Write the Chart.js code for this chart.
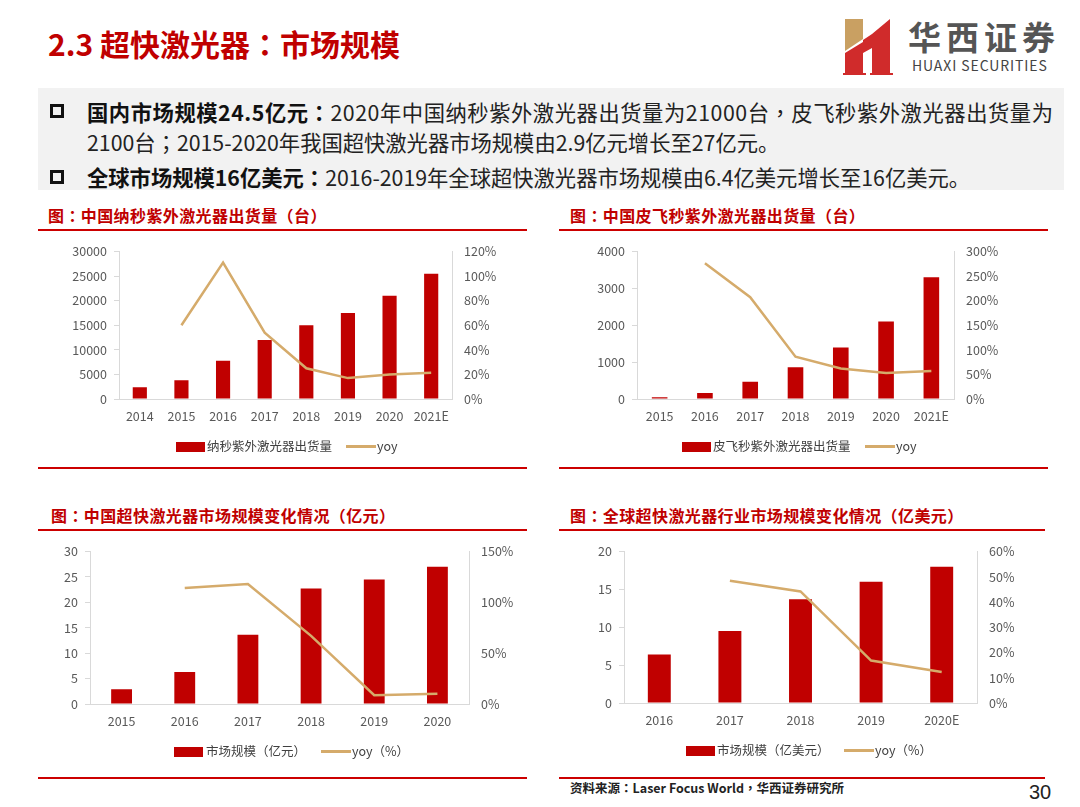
<!DOCTYPE html>
<html>
<head>
<meta charset="utf-8">
<script src="https://cdn.jsdelivr.net/npm/chart.js@4.4.1/dist/chart.umd.min.js"></script>
<style>
  html, body { margin: 0; padding: 0; }
  body { width: 1080px; height: 807px; background: #fff; position: relative; overflow: hidden;
         font-family: "Noto Sans CJK SC", "Noto Sans", sans-serif; }
  .abs { position: absolute; white-space: nowrap; }
  .p { font-family: "Noto Sans CJK TC", "Noto Sans CJK SC", sans-serif; }
  .title { left: 48px; top: 22px; font-size: 30px; font-weight: bold; color: #C00000; line-height: 42px; }
  .greybox { left: 38px; top: 88px; width: 1026px; height: 102px; background: #F2F2F2; }
  .bullet { width: 8px; height: 8px; border: 3px solid #111; }
  .btext { font-size: 21.3px; color: #222; line-height: 30px; }
  .btext b { color: #111; }
  .ctitle { font-size: 16px; letter-spacing: 0.4px; font-weight: bold; color: #C00000; line-height: 22px; }
  .rline { height: 2px; background: #CC0000; }
  .chartbox { position: absolute; }
  .legtext { font-size: 12.5px; color: #404040; line-height: 16px; }
  .sw { height: 10px; background: #C00000; }
  .lw { height: 3px; background: #D5AB6B; }
</style>
</head>
<body>
<div class="abs title">2.3 超快激光器<span class="p">：</span>市场规模</div>

<svg class="abs" style="left:840px;top:15px" width="56" height="62" viewBox="0 0 56 62">
  <polygon points="5,4 23,4 23,24 5,36" fill="#C9A062"/>
  <polygon points="5,38 23,27 23,58 26,58 26,60 3,60 3,58 5,58" fill="#D02B2B"/>
  <polygon points="23,25 32,19 50,4 50,58 53,58 53,60 30,60 30,58 32,58 32,33 23,38" fill="#D02B2B"/>
</svg>
<div class="abs" style="left:908px;top:14px;font-size:33px;letter-spacing:5px;color:#555;font-weight:bold;line-height:44px;">华西证券</div>
<div class="abs" style="left:912px;top:57px;font-size:14px;color:#444;line-height:16px;letter-spacing:0.9px;">HUAXI SECURITIES</div>

<div class="abs greybox"></div>
<div class="abs bullet" style="left:50px;top:104px;"></div>
<div class="abs btext" style="left:87px;top:97px;letter-spacing:0.55px;"><b>国内市场规模24.5亿元<span class="p">：</span></b>2020年中国纳秒紫外激光器出货量为21000台<span class="p">，</span>皮飞秒紫外激光器出货量为</div>
<div class="abs btext" style="left:87px;top:127px;">2100台<span class="p">；</span>2015-2020年我国超快激光器市场规模由2.9亿元增长至27亿元。</div>
<div class="abs bullet" style="left:50px;top:170px;"></div>
<div class="abs btext" style="left:87px;top:162px;"><b>全球市场规模16亿美元<span class="p">：</span></b>2016-2019年全球超快激光器市场规模由6.4亿美元增长至16亿美元。</div>

<!-- chart 1 -->
<div class="abs ctitle" style="left:48px;top:204px;">图<span class="p">：</span>中国纳秒紫外激光器出货量（台）</div>
<div class="abs rline" style="left:38px;top:229px;width:489px;"></div>
<div class="chartbox" style="left:38px;top:232px;width:490px;height:234px;"><canvas id="c1"></canvas></div>
<div class="abs sw" style="left:176px;top:442px;width:29px;"></div>
<div class="abs legtext" style="left:207px;top:438px;">纳秒紫外激光器出货量</div>
<div class="abs lw" style="left:346px;top:445px;width:30px;"></div>
<div class="abs legtext" style="left:377px;top:438px;">yoy</div>
<div class="abs rline" style="left:38px;top:467px;width:489px;"></div>

<!-- chart 2 -->
<div class="abs ctitle" style="left:570px;top:204px;">图<span class="p">：</span>中国皮飞秒紫外激光器出货量（台）</div>
<div class="abs rline" style="left:559px;top:229px;width:489px;"></div>
<div class="chartbox" style="left:559px;top:232px;width:489px;height:234px;"><canvas id="c2"></canvas></div>
<div class="abs sw" style="left:682px;top:442px;width:29px;"></div>
<div class="abs legtext" style="left:713px;top:438px;">皮飞秒紫外激光器出货量</div>
<div class="abs lw" style="left:865px;top:445px;width:30px;"></div>
<div class="abs legtext" style="left:896px;top:438px;">yoy</div>
<div class="abs rline" style="left:559px;top:467px;width:489px;"></div>

<!-- chart 3 -->
<div class="abs ctitle" style="left:51px;top:504px;">图<span class="p">：</span>中国超快激光器市场规模变化情况（亿元）</div>
<div class="abs rline" style="left:38px;top:529px;width:489px;"></div>
<div class="chartbox" style="left:38px;top:532px;width:489px;height:244px;"><canvas id="c3"></canvas></div>
<div class="abs sw" style="left:174px;top:747px;width:29px;"></div>
<div class="abs legtext" style="left:206px;top:743px;">市场规模（亿元）</div>
<div class="abs lw" style="left:321px;top:750px;width:30px;"></div>
<div class="abs legtext" style="left:352px;top:743px;">yoy（%）</div>
<div class="abs rline" style="left:38px;top:777px;width:489px;"></div>

<!-- chart 4 -->
<div class="abs ctitle" style="left:570px;top:504px;">图<span class="p">：</span>全球超快激光器行业市场规模变化情况（亿美元）</div>
<div class="abs rline" style="left:559px;top:529px;width:486px;"></div>
<div class="chartbox" style="left:559px;top:532px;width:486px;height:244px;"><canvas id="c4"></canvas></div>
<div class="abs sw" style="left:686px;top:746px;width:29px;"></div>
<div class="abs legtext" style="left:717px;top:742px;">市场规模（亿美元）</div>
<div class="abs lw" style="left:844px;top:749px;width:30px;"></div>
<div class="abs legtext" style="left:875px;top:742px;">yoy（%）</div>
<div class="abs rline" style="left:559px;top:777px;width:486px;"></div>

<div class="abs" style="left:570px;top:779px;font-size:12.5px;font-weight:bold;color:#222;line-height:18px;">资料来源<span class="p">：</span>Laser Focus World<span class="p">，</span>华西证券研究所</div>
<div class="abs" style="left:1029px;top:779px;font-size:20px;color:#222;line-height:26px;font-family:'Liberation Sans',sans-serif;">30</div>

<script>
// ---- Data ----
const nsYears = ['2014', '2015', '2016', '2017', '2018', '2019', '2020', '2021E'];
const nsShipments = [2400, 3800, 7800, 12000, 15000, 17500, 21000, 25500];
const nsYoy = [null, 60, 111, 54, 25, 17, 20, 21.4];

const fsYears = ['2015', '2016', '2017', '2018', '2019', '2020', '2021E'];
const fsShipments = [45, 160, 470, 860, 1400, 2100, 3300];
const fsYoy = [null, 276, 207, 86, 62, 53, 57];

const cnYears = ['2015', '2016', '2017', '2018', '2019', '2020'];
const cnMarket = [2.9, 6.3, 13.6, 22.7, 24.5, 27];
const cnYoy = [null, 114, 118, 67, 8.6, 10.2];

const glYears = ['2016', '2017', '2018', '2019', '2020E'];
const glMarket = [6.4, 9.5, 13.7, 16, 18];
const glYoy = [null, 48.4, 44.2, 16.8, 12.3];

// ---- Chart factory ----
const BAR = '#C00000';
const LINE = '#D5AB6B';
const AXIS = '#D9D9D9';
const TICK = '#595959';
const FONT = { family: "'Noto Sans CJK SC', 'Noto Sans', sans-serif", size: 12.5 };

function makeChart(id, labels, bars, yoy, barName, c) {
  new Chart(document.getElementById(id), {
    data: {
      labels: labels,
      datasets: [
        { type: 'line', label: 'yoy', data: yoy, yAxisID: 'y1', borderColor: LINE,
          borderWidth: 2.5, pointRadius: 0, tension: 0, fill: false, order: 0 },
        { type: 'bar', label: barName, data: bars, yAxisID: 'y', backgroundColor: BAR,
          barPercentage: c.barPct, categoryPercentage: 1, order: 1 }
      ]
    },
    options: {
      responsive: true, maintainAspectRatio: false, animation: false,
      layout: { padding: { top: c.top, left: 0, right: 0, bottom: 0 } },
      plugins: { legend: { display: false }, tooltip: { enabled: false } },
      scales: {
        x: {
          grid: { display: false, drawTicks: false },
          border: { display: true, color: AXIS, width: 1 },
          ticks: { color: TICK, font: FONT, padding: 10, maxRotation: 0 },
          afterFit: s => { s.height = c.xH; }
        },
        y: {
          position: 'left', min: 0, max: c.yMax,
          grid: { drawOnChartArea: false, drawTicks: true, tickLength: 5, color: AXIS },
          border: { display: true, color: AXIS, width: 1 },
          ticks: { stepSize: c.yStep, color: TICK, font: FONT, padding: 7,
                   callback: v => String(v) },
          afterFit: s => { s.width = c.leftW; }
        },
        y1: {
          position: 'right', min: 0, max: c.y1Max,
          grid: { drawOnChartArea: false, drawTicks: false, color: AXIS },
          border: { display: true, color: AXIS, width: 1 },
          ticks: { stepSize: c.y1Step, color: TICK, font: FONT, padding: 12,
                   callback: v => v + '%' },
          afterFit: s => { s.width = c.rightW; }
        }
      }
    }
  });
}

makeChart('c1', nsYears, nsShipments, nsYoy, '纳秒紫外激光器出货量',
  { top: 18, xH: 67, leftW: 81, rightW: 76, yMax: 30000, yStep: 5000, y1Max: 120, y1Step: 20, barPct: 0.34 });
makeChart('c2', fsYears, fsShipments, fsYoy, '皮飞秒紫外激光器出货量',
  { top: 18, xH: 67, leftW: 78, rightW: 94, yMax: 4000, yStep: 1000, y1Max: 300, y1Step: 50, barPct: 0.345 });
makeChart('c3', cnYears, cnMarket, cnYoy, '市场规模（亿元）',
  { top: 18, xH: 72, leftW: 52, rightW: 58, yMax: 30, yStep: 5, y1Max: 150, y1Step: 50, barPct: 0.33 });
makeChart('c4', glYears, glMarket, glYoy, '市场规模（亿美元）',
  { top: 17, xH: 73, leftW: 65, rightW: 68, yMax: 20, yStep: 5, y1Max: 60, y1Step: 10, barPct: 0.325 });
</script>
</body>
</html>
